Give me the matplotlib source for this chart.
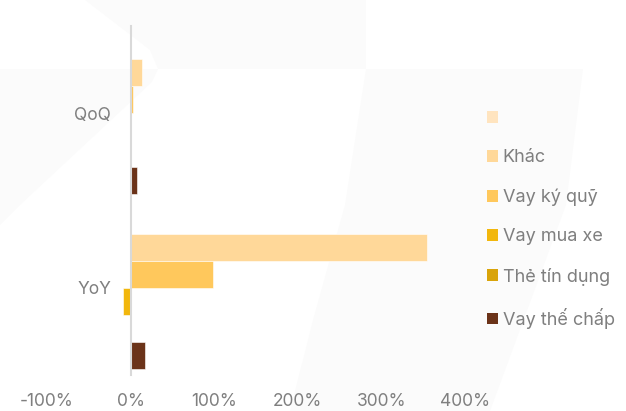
import matplotlib

matplotlib.use("Agg")
import matplotlib.pyplot as plt
from matplotlib.patches import Polygon, Patch
import numpy as np

plt.rcParams["font.family"] = ["Inter", "DejaVu Sans"]

categories = ["QoQ", "YoY"]
series_names = ["", "Khác", "Vay ký quỹ", "Vay mua xe", "Thẻ tín dụng", "Vay thế chấp"]
qoq_pct = [0.0, 14.0, 2.9, 1.0, 0.0, 7.3]
yoy_pct = [0.0, 354.5, 99.0, -8.7, 0.0, 17.2]
colors = ["#FFE4BF", "#FFD899", "#FFC85C", "#F2B70C", "#D9A40A", "#6B3319"]
x_ticks = [-100, 0, 100, 200, 300, 400]

TEXT = "#7F7F7F"
AXIS = "#D9D9D9"
WATERMARK = "#FBFBFB"

W, H = 626, 411
fig = plt.figure(figsize=(W / 100, H / 100), dpi=100)
fig.patch.set_facecolor("white")


def px(pts):
    return [(x / W, 1 - y / H) for x, y in pts]


# faint background logo shapes
for shape in (
    [(85, 0), (366, 0), (366, 69), (158, 69), (150, 50)],
    [(0, 69), (158, 69), (152, 82), (20, 205), (0, 225)],
    [(366, 69), (583, 69), (566, 205), (490, 411), (290, 411), (313, 320), (345, 205)],
):
    fig.patches.append(Polygon(px(shape), closed=True, transform=fig.transFigure,
                               facecolor=WATERMARK, edgecolor="none", zorder=-5))

ax = fig.add_axes([47 / W, 1 - 375 / H, (465 - 47) / W, (375 - 26) / H])
ax.set_zorder(2)
ax.patch.set_alpha(0)

n = len(series_names)
h = 27 / 174.5
cat_pos = np.arange(len(categories))
for i, name in enumerate(series_names):
    vals = [qoq_pct[i], yoy_pct[i]]
    ax.barh(cat_pos + (i - (n - 1) / 2) * h, vals, height=h, color=colors[i],
            edgecolor="white", linewidth=0.4, zorder=2)

ax.set_xlim(-100, 400)
ax.set_ylim(1.5, -0.5)
ax.set_xticks(x_ticks)
ax.set_xticklabels([f"{t}%" for t in x_ticks])
ax.set_yticks(cat_pos)
ax.set_yticklabels(categories)
ax.tick_params(axis="both", length=0, colors=TEXT, labelsize=12.5)
ax.tick_params(axis="x", pad=13)
ax.tick_params(axis="y", pad=14)
for s in ("top", "right", "bottom"):
    ax.spines[s].set_visible(False)
ax.spines["left"].set_position(("data", 0))
ax.spines["left"].set_color(AXIS)
ax.spines["left"].set_linewidth(1.5)

handles = [Patch(facecolor=c, edgecolor="none") for c in colors]
leg = fig.legend(handles, series_names, loc="upper left",
                 bbox_to_anchor=(480 / W, 1 - 103 / H), frameon=False, fontsize=13,
                 labelcolor=TEXT, handlelength=0.61, handleheight=0.61,
                 handletextpad=0.25, labelspacing=1.23, borderaxespad=0)
leg.set_zorder(3)

fig.savefig("out.png", dpi=100, facecolor="white")
